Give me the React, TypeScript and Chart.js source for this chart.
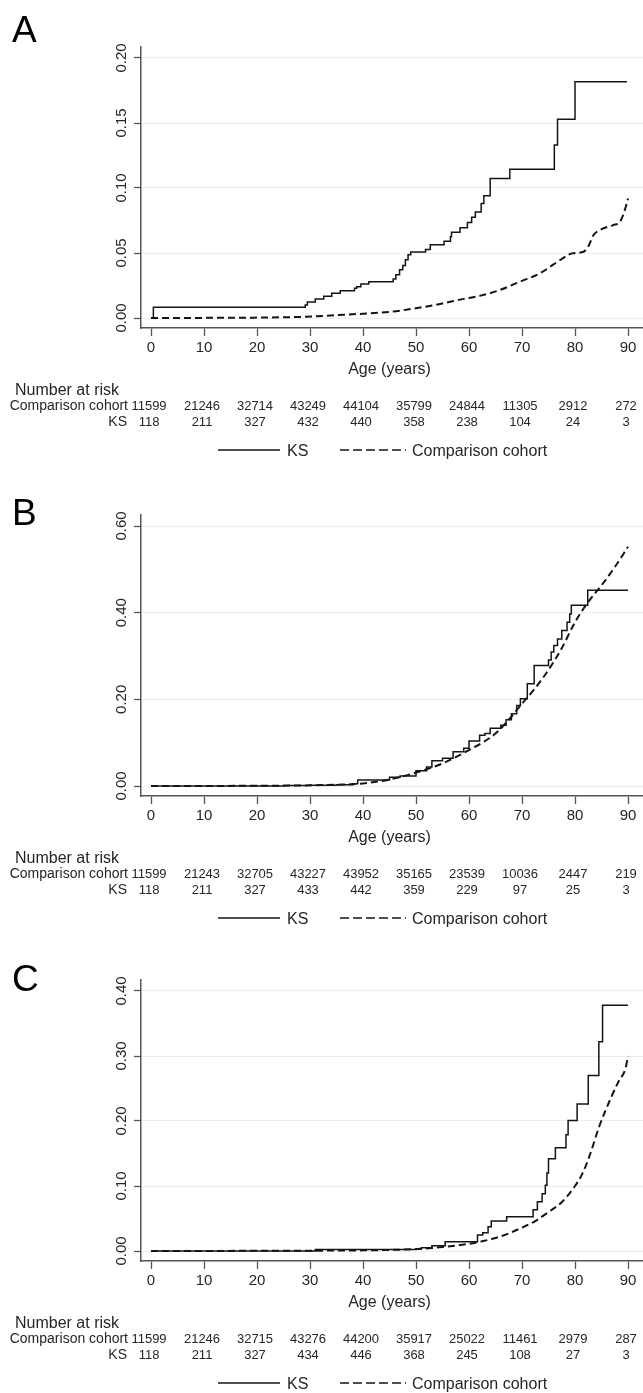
import React, { useEffect, useRef } from "react";
import { Chart, registerables } from "chart.js";

Chart.register(...registerables);

// ---------- shared labels ----------
const AGE_TICKS = [0, 10, 20, 30, 40, 50, 60, 70, 80, 90];
const X_TITLE = "Age (years)";
const RISK_TITLE = "Number at risk";
const ROW_LABELS = ["Comparison cohort", "KS"];
const SERIES_LABELS = ["KS", "Comparison cohort"];

// ---------- Panel A ----------
const A_Y_TICKS = [0, 0.05, 0.1, 0.15, 0.2];
const A_KS_AGE = [0, 0.45, 29.1, 29.5, 31.0, 32.6, 34.1, 35.7, 38.4, 38.8, 39.6, 41.1, 45.7, 46.2, 46.9, 47.5, 48.0, 48.5, 49.0, 51.8, 52.7, 55.3, 56.5, 56.7, 58.3, 59.7, 60.5, 61.2, 62.3, 62.8, 64.0, 67.7, 76.1, 76.7, 80.0, 89.8];
const A_KS_VAL = [0, 0.0082, 0.0100, 0.0123, 0.0146, 0.0168, 0.0190, 0.0210, 0.0228, 0.0241, 0.0262, 0.0279, 0.0300, 0.0333, 0.0372, 0.0403, 0.0449, 0.0487, 0.0508, 0.0526, 0.0564, 0.0590, 0.0625, 0.0660, 0.0695, 0.0735, 0.0775, 0.0815, 0.0880, 0.0940, 0.1074, 0.1144, 0.1330, 0.1528, 0.1818, 0.1818];
const A_COH_AGE = [0, 10, 20, 25, 29, 35, 40, 45, 50, 55, 59, 62, 65.8, 69.6, 73.4, 75.8, 78.4, 79.4, 81.6, 82.5, 83.5, 84.7, 87.2, 88.5, 89.4, 90];
const A_COH_VAL = [0, 0.0001, 0.0003, 0.0006, 0.0009, 0.0022, 0.0033, 0.0047, 0.0075, 0.0112, 0.0147, 0.0170, 0.0215, 0.0279, 0.0344, 0.0408, 0.0477, 0.0497, 0.0510, 0.0549, 0.0638, 0.0677, 0.0715, 0.0741, 0.0830, 0.0920];
const A_RISK_COHORT = [11599, 21246, 32714, 43249, 44104, 35799, 24844, 11305, 2912, 272];
const A_RISK_KS = [118, 211, 327, 432, 440, 358, 238, 104, 24, 3];

// ---------- Panel B ----------
const B_Y_TICKS = [0, 0.2, 0.4, 0.6];
const B_KS_AGE = [0, 25, 30, 35, 38, 39, 45, 47, 50, 52, 53, 55, 57, 59, 60, 62, 63, 64, 66, 67, 68, 69, 69.7, 71, 72.3, 75, 75.5, 76, 76.7, 77.5, 78.5, 79, 79.3, 82.4, 90];
const B_KS_VAL = [0, 0.001, 0.002, 0.003, 0.005, 0.0138, 0.02, 0.023, 0.035, 0.044, 0.058, 0.064, 0.079, 0.087, 0.104, 0.117, 0.121, 0.133, 0.14, 0.153, 0.167, 0.186, 0.2015, 0.236, 0.278, 0.291, 0.309, 0.324, 0.339, 0.359, 0.378, 0.397, 0.417, 0.452, 0.452];
const B_COH_AGE = [0, 20, 30, 35, 40, 45, 50, 55, 60, 62.5, 65, 67.5, 70, 72.5, 75, 77.5, 80, 82.5, 85, 87.5, 90];
const B_COH_VAL = [0, 0.0005, 0.0015, 0.003, 0.006, 0.015, 0.031, 0.052, 0.083, 0.1, 0.121, 0.153, 0.19, 0.226, 0.268, 0.318, 0.378, 0.425, 0.463, 0.505, 0.552];
const B_RISK_COHORT = [11599, 21243, 32705, 43227, 43952, 35165, 23539, 10036, 2447, 219];
const B_RISK_KS = [118, 211, 327, 433, 442, 359, 229, 97, 25, 3];

// ---------- Panel C ----------
const C_Y_TICKS = [0, 0.1, 0.2, 0.3, 0.4];
const C_KS_AGE = [0, 31, 50, 51, 53, 55.5, 61.6, 62.6, 63.6, 64.2, 67.1, 72.1, 72.9, 73.8, 74.4, 74.7, 75.0, 76.3, 78.3, 78.7, 80.4, 82.5, 84.5, 85.2, 90];
const C_KS_VAL = [0, 0.0025, 0.003, 0.005, 0.008, 0.0143, 0.0245, 0.028, 0.0373, 0.046, 0.0526, 0.0635, 0.0756, 0.088, 0.101, 0.12, 0.142, 0.159, 0.179, 0.2008, 0.226, 0.27, 0.322, 0.378, 0.378];
const C_COH_AGE = [0, 30, 40, 50, 55, 60, 62.5, 65, 67.5, 70, 72.5, 75, 77.5, 80, 81.4, 82.9, 84.5, 86.8, 88.3, 89.5, 90];
const C_COH_VAL = [0, 0.0005, 0.001, 0.003, 0.006, 0.011, 0.015, 0.02, 0.027, 0.036, 0.046, 0.06, 0.075, 0.1, 0.119, 0.15, 0.19, 0.236, 0.262, 0.28, 0.3];
const C_RISK_COHORT = [11599, 21246, 32715, 43276, 44200, 35917, 25022, 11461, 2979, 287];
const C_RISK_KS = [118, 211, 327, 434, 446, 368, 245, 108, 27, 3];

// ---------- layout ----------
const FONT = "'Liberation Sans', Arial, Helvetica, sans-serif";
const W = 643;
const AXIS_LEFT = 141; // y-axis line
const PLOT_TOP = 47; // top of y-axis
const PLOT_BOTTOM = 328; // x-axis line
const ZERO_Y = 318; // pixel row of 0.00
const TOPTICK_Y = 58; // pixel row of top tick
const X0 = 151; // pixel of age 0
const PX_PER_YEAR = 5.3;
const X_MIN = -(X0 - AXIS_LEFT) / PX_PER_YEAR;
const X_MAX = (W - X0) / PX_PER_YEAR;

const LINE_COLOR = "#141414";
const AXIS_COLOR = "#555555";
const TEXT_COLOR = "#262626";

type PanelCfg = {
  letter: string;
  letterBaseline: number;
  top: number;
  height: number;
  yTicks: number[];
  ksAge: number[];
  ksVal: number[];
  cohAge: number[];
  cohVal: number[];
  riskCohort: number[];
  riskKs: number[];
};

const PANELS: PanelCfg[] = [
  { letter: "A", letterBaseline: 42, top: 0, height: 468, yTicks: A_Y_TICKS, ksAge: A_KS_AGE, ksVal: A_KS_VAL, cohAge: A_COH_AGE, cohVal: A_COH_VAL, riskCohort: A_RISK_COHORT, riskKs: A_RISK_KS },
  { letter: "B", letterBaseline: 57, top: 468, height: 465, yTicks: B_Y_TICKS, ksAge: B_KS_AGE, ksVal: B_KS_VAL, cohAge: B_COH_AGE, cohVal: B_COH_VAL, riskCohort: B_RISK_COHORT, riskKs: B_RISK_KS },
  { letter: "C", letterBaseline: 58, top: 933, height: 460, yTicks: C_Y_TICKS, ksAge: C_KS_AGE, ksVal: C_KS_VAL, cohAge: C_COH_AGE, cohVal: C_COH_VAL, riskCohort: C_RISK_COHORT, riskKs: C_RISK_KS },
];

function zip(xs: number[], ys: number[]) {
  return xs.map((x, i) => ({ x, y: ys[i] }));
}

function makeDecor(cfg: PanelCfg) {
  return {
    id: "decor" + cfg.letter,
    afterDraw(chart: any) {
      const ctx = chart.ctx as CanvasRenderingContext2D;
      const xs = chart.scales.x;
      const ys = chart.scales.y;
      ctx.save();
      ctx.fillStyle = TEXT_COLOR;

      // panel letter
      ctx.font = `37px ${FONT}`;
      ctx.textAlign = "left";
      ctx.textBaseline = "alphabetic";
      ctx.fillStyle = "#000";
      ctx.fillText(cfg.letter, 12, cfg.letterBaseline);
      ctx.fillStyle = TEXT_COLOR;

      // rotated y tick labels
      ctx.font = `15px ${FONT}`;
      for (const v of cfg.yTicks) {
        const py = ys.getPixelForValue(v);
        ctx.save();
        ctx.translate(126, py);
        ctx.rotate(-Math.PI / 2);
        ctx.textAlign = "center";
        ctx.textBaseline = "alphabetic";
        ctx.fillText(v.toFixed(2), 0, 0);
        ctx.restore();
      }

      // x axis title
      ctx.font = `16px ${FONT}`;
      ctx.textAlign = "center";
      ctx.fillText(X_TITLE, xs.getPixelForValue(45), 374);

      // number at risk
      ctx.textAlign = "left";
      ctx.fillText(RISK_TITLE, 15, 395);

      ctx.font = `14px ${FONT}`;
      ctx.textAlign = "right";
      ctx.fillText(ROW_LABELS[0], 128, 410);
      ctx.fillText(ROW_LABELS[1], 127, 426);
      ctx.font = `13px ${FONT}`;
      ctx.textAlign = "center";
      AGE_TICKS.forEach((age, i) => {
        const px = xs.getPixelForValue(age) - 2;
        ctx.fillText(String(cfg.riskCohort[i]), px, 410);
        ctx.fillText(String(cfg.riskKs[i]), px, 426);
      });

      // legend
      const ly = 450;
      ctx.strokeStyle = LINE_COLOR;
      ctx.lineWidth = 1.3;
      ctx.setLineDash([]);
      ctx.beginPath();
      ctx.moveTo(218, ly);
      ctx.lineTo(280, ly);
      ctx.stroke();
      ctx.setLineDash([9, 4]);
      ctx.beginPath();
      ctx.moveTo(340, ly);
      ctx.lineTo(406, ly);
      ctx.stroke();
      ctx.setLineDash([]);
      ctx.font = `16px ${FONT}`;
      ctx.textAlign = "left";
      ctx.fillText(SERIES_LABELS[0], 287, 456);
      ctx.fillText(SERIES_LABELS[1], 412, 456);
      ctx.restore();
    },
  };
}

function Panel({ cfg }: { cfg: PanelCfg }) {
  const ref = useRef<HTMLCanvasElement>(null);
  useEffect(() => {
    const canvas = ref.current;
    if (!canvas) return;
    const topTick = cfg.yTicks[cfg.yTicks.length - 1];
    const unitPx = (ZERO_Y - TOPTICK_Y) / topTick;
    const yMin = -(PLOT_BOTTOM - ZERO_Y) / unitPx;
    const yMax = (ZERO_Y - PLOT_TOP) / unitPx;
    const chart = new Chart(canvas, {
      type: "line",
      data: {
        datasets: [
          {
            label: SERIES_LABELS[0],
            data: zip(cfg.ksAge, cfg.ksVal),
            stepped: "before",
            borderColor: LINE_COLOR,
            borderWidth: 1.5,
            pointRadius: 0,
            fill: false,
          },
          {
            label: SERIES_LABELS[1],
            data: zip(cfg.cohAge, cfg.cohVal),
            borderColor: LINE_COLOR,
            borderWidth: 2,
            borderDash: [7, 4],
            pointRadius: 0,
            cubicInterpolationMode: "monotone",
            fill: false,
          },
        ],
      } as any,
      options: {
        responsive: false,
        maintainAspectRatio: false,
        animation: false,
        events: [],
        layout: { padding: { top: PLOT_TOP, left: 0, right: 0, bottom: 0 } },
        plugins: {
          legend: { display: false },
          tooltip: { enabled: false },
          title: { display: false },
        },
        scales: {
          x: {
            type: "linear",
            min: X_MIN,
            max: X_MAX,
            afterBuildTicks: (s: any) => {
              s.ticks = AGE_TICKS.map((v) => ({ value: v }));
            },
            afterFit: (s: any) => {
              s.height = cfg.height - PLOT_BOTTOM;
            },
            grid: {
              drawOnChartArea: false,
              drawTicks: true,
              tickLength: 8,
              tickColor: AXIS_COLOR,
              tickWidth: 1.3,
            },
            border: { display: true, color: AXIS_COLOR, width: 1.5 },
            ticks: {
              color: TEXT_COLOR,
              font: { family: FONT, size: 15 },
              padding: 3,
              maxRotation: 0,
              minRotation: 0,
              autoSkip: false,
              callback: (v: any) => String(v),
            },
          },
          y: {
            type: "linear",
            min: yMin,
            max: yMax,
            afterBuildTicks: (s: any) => {
              s.ticks = cfg.yTicks.map((v) => ({ value: v }));
            },
            afterFit: (s: any) => {
              s.width = AXIS_LEFT;
            },
            grid: {
              color: "#e6eef0",
              lineWidth: 1,
              drawTicks: true,
              tickLength: 7,
              tickColor: AXIS_COLOR,
              tickWidth: 1.3,
            },
            border: { display: true, color: AXIS_COLOR, width: 1.5 },
            ticks: { display: false },
          },
        },
      } as any,
      plugins: [makeDecor(cfg)],
    });
    return () => chart.destroy();
  }, [cfg]);
  return (
    <canvas
      ref={ref}
      width={W}
      height={cfg.height}
      style={{ position: "absolute", left: 0, top: cfg.top, display: "block", width: W, height: cfg.height }}
    />
  );
}

export default function App() {
  return (
    <div style={{ position: "absolute", left: 0, top: 0, width: W, height: 1393, background: "#fff", overflow: "hidden" }}>
      {PANELS.map((p) => (
        <Panel key={p.letter} cfg={p} />
      ))}
    </div>
  );
}
